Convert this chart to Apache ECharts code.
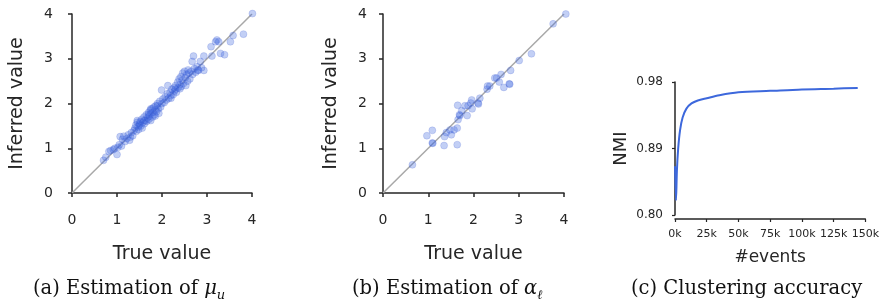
<!DOCTYPE html>
<html><head><meta charset="utf-8">
<script src="https://cdn.jsdelivr.net/npm/echarts@6/dist/echarts.min.js"></script>
<style>html,body{margin:0;padding:0;background:#fff}#c{width:882px;height:303px}</style>
</head><body><div id="c"></div>
<script>
// (a) base intensity mu_u : [true, inferred]
const pointsA = [
[0.70,0.73],[0.75,0.80],[0.82,0.93],[0.86,0.95],[0.92,0.97],[0.95,1.00],[1.00,0.86],[1.02,1.02],[1.05,1.08],[1.07,1.26],
[1.10,1.05],[1.12,1.20],[1.15,1.27],[1.18,1.15],[1.22,1.22],[1.25,1.30],[1.28,1.18],[1.30,1.25],[1.32,1.35],[1.35,1.28],
[1.38,1.40],[1.40,1.45],[1.42,1.52],[1.43,1.38],[1.45,1.58],[1.45,1.62],[1.47,1.48],[1.48,1.42],[1.50,1.55],[1.50,1.52],
[1.52,1.60],[1.53,1.50],[1.55,1.65],[1.56,1.45],[1.58,1.58],[1.60,1.70],[1.60,1.62],[1.61,1.55],[1.63,1.62],[1.65,1.75],
[1.66,1.60],[1.68,1.68],[1.70,1.80],[1.70,1.75],[1.71,1.65],[1.72,1.72],[1.74,1.85],[1.75,1.62],[1.75,1.88],[1.76,1.78],
[1.78,1.88],[1.79,1.70],[1.80,1.80],[1.82,1.92],[1.83,1.75],[1.85,1.85],[1.85,1.72],[1.86,1.95],[1.88,1.82],[1.90,2.00],
[1.90,1.95],[1.92,1.88],[1.93,1.78],[1.95,2.05],[1.97,1.92],[1.99,2.30],[2.00,2.00],[2.02,2.10],[2.05,2.02],[2.07,2.15],
[2.10,2.08],[2.12,2.22],[2.13,2.40],[2.15,2.12],[2.18,2.25],[2.20,2.18],[2.20,2.12],[2.22,2.32],[2.25,2.20],[2.27,2.35],
[2.28,2.28],[2.30,2.40],[2.30,2.32],[2.32,2.25],[2.35,2.48],[2.36,2.35],[2.38,2.55],[2.40,2.42],[2.40,2.33],[2.42,2.60],
[2.43,2.38],[2.45,2.52],[2.46,2.68],[2.48,2.45],[2.50,2.72],[2.52,2.58],[2.53,2.40],[2.55,2.65],[2.57,2.50],[2.58,2.75],
[2.60,2.68],[2.62,2.55],[2.65,2.72],[2.67,2.94],[2.68,2.65],[2.70,3.06],[2.72,2.78],[2.75,2.70],[2.78,2.82],[2.80,2.75],
[2.81,2.74],[2.85,2.94],[2.88,2.80],[2.93,2.74],[2.93,3.06],[3.09,3.27],[3.11,3.06],[3.19,3.38],[3.22,3.42],[3.26,3.38],
[3.30,3.12],[3.39,3.09],[3.52,3.38],[3.58,3.52],[3.81,3.55],[4.01,4.01]
];
// (b) kernel weight alpha_l : [true, inferred]
const pointsB = [
[0.65,0.63],[0.97,1.28],[1.09,1.40],[1.09,1.12],[1.10,1.11],[1.35,1.06],[1.36,1.26],[1.40,1.35],[1.48,1.41],[1.51,1.30],
[1.57,1.41],[1.64,1.45],[1.64,1.08],[1.65,1.96],[1.66,1.64],[1.69,1.75],[1.70,1.73],[1.74,1.84],[1.81,1.95],[1.86,1.73],
[1.88,1.95],[1.94,2.01],[1.96,2.08],[1.97,1.88],[2.10,2.01],[2.11,1.99],[2.14,2.12],[2.30,2.32],[2.31,2.39],[2.36,2.39],
[2.47,2.57],[2.51,2.57],[2.57,2.48],[2.61,2.65],[2.67,2.36],[2.79,2.44],[2.80,2.43],[2.82,2.74],[3.01,2.96],[3.28,3.11],
[3.76,3.78],[4.04,4.00]
];
const diagonal = [[0,0],[4,4]];
// (c) clustering accuracy: [#events, NMI]
const eventsC = [0,800,1500,2500,4000,6000,9000,13000,18000,25000,35000,50000,75000,100000,125000,144000];
const nmiC = [0.866,0.820,0.860,0.890,0.915,0.932,0.944,0.951,0.955,0.958,0.962,0.966,0.968,0.970,0.971,0.972];
const ticksNMI = [0.80,0.89,0.98];
const captions = ['(a) Estimation of {it|μ}{sub|u}','(b) Estimation of {it|α}{sub|ℓ}','(c) Clustering accuracy'];

const TXT = '#262626', AX = '#262626', SANS = 'DejaVu Sans', SERIF = 'DejaVu Serif';
const ptColor = 'rgba(65,105,225,0.40)', ptBorder = 'rgba(40,70,200,0.35)';

function valAxis(gi, name, off, gap, isY) {
  return {
    type:'value', gridIndex:gi, min:0, max:4, interval:1, offset:off,
    name:name, nameLocation:'middle', nameGap:gap,
    nameTextStyle:{fontFamily:SANS, fontSize:19, color:TXT},
    axisLine:{show:true, lineStyle:{color:AX, width:1.5}},
    axisTick:{show:true, length:4, lineStyle:{color:AX, width:1.5}},
    axisLabel:{fontFamily:SANS, fontSize:14, color:TXT, margin:isY?10:14},
    splitLine:{show:false}
  };
}
const CAPSIZE = 19.5;
const richCap = {
  it:{fontFamily:SERIF, fontStyle:'italic', fontSize:CAPSIZE, color:'#111', lineHeight:26},
  sub:{fontFamily:SERIF, fontStyle:'italic', fontSize:13, color:'#111', lineHeight:16, verticalAlign:'bottom'}
};
const capLeft = [33, 352, 631];
const option = {
  animation:false,
  title: captions.map((t,i)=>({text:t, left:capLeft[i], top:276, padding:0,
    textStyle:{fontFamily:SERIF, fontWeight:'normal', fontSize:CAPSIZE, lineHeight:26, color:'#111', rich:richCap}})),
  grid:[
    {left:72, right:630, top:14, bottom:110},
    {left:383, right:318, top:14, bottom:110},
    {left:675, right:14, top:82, bottom:88}
  ],
  xAxis:[
    valAxis(0,'True value',6,46,false),
    valAxis(1,'True value',6,46,false),
    {type:'value', gridIndex:2, min:0, max:150000, interval:25000, offset:4,
     name:'#events', nameLocation:'middle', nameGap:30,
     nameTextStyle:{fontFamily:SANS, fontSize:17, color:TXT},
     axisLine:{lineStyle:{color:AX, width:1.5}},
     axisTick:{show:true, length:3, lineStyle:{color:AX, width:1.2}},
     axisLabel:{fontFamily:SANS, fontSize:11, color:TXT, margin:10, formatter:v=>(v/1000)+'k'},
     splitLine:{show:false}}
  ],
  yAxis:[
    valAxis(0,'Inferred value',9,36,true),
    valAxis(1,'Inferred value',6,36,true),
    {type:'value', gridIndex:2, min:0.80, max:0.98, offset:4,
     name:'NMI', nameLocation:'middle', nameGap:41,
     nameTextStyle:{fontFamily:SANS, fontSize:18, color:TXT},
     axisLine:{show:true, lineStyle:{color:AX, width:1.5}},
     axisTick:{show:true, length:3, customValues:ticksNMI, lineStyle:{color:AX, width:1.2}},
     axisLabel:{fontFamily:SANS, fontSize:12, color:TXT, margin:8, customValues:ticksNMI, formatter:v=>v.toFixed(2)},
     splitLine:{show:false}}
  ],
  series:[
    {type:'line', xAxisIndex:0, yAxisIndex:0, data:diagonal, symbol:'none', lineStyle:{color:'#a8a8a8', width:1.5}, z:1},
    {type:'scatter', xAxisIndex:0, yAxisIndex:0, data:pointsA, symbolSize:7, clip:false, itemStyle:{color:ptColor, borderColor:ptBorder, borderWidth:0.6}, z:2},
    {type:'line', xAxisIndex:1, yAxisIndex:1, data:diagonal, symbol:'none', lineStyle:{color:'#a8a8a8', width:1.5}, z:1},
    {type:'scatter', xAxisIndex:1, yAxisIndex:1, data:pointsB, symbolSize:7, clip:false, itemStyle:{color:ptColor, borderColor:ptBorder, borderWidth:0.6}, z:2},
    {type:'line', xAxisIndex:2, yAxisIndex:2, data:eventsC.map((e,i)=>[e,nmiC[i]]), symbol:'none', smooth:0.3,
     lineStyle:{color:'#3d68dc', width:2}}
  ]
};
echarts.init(document.getElementById('c'), null, {renderer:'canvas'}).setOption(option);
</script></body></html>
